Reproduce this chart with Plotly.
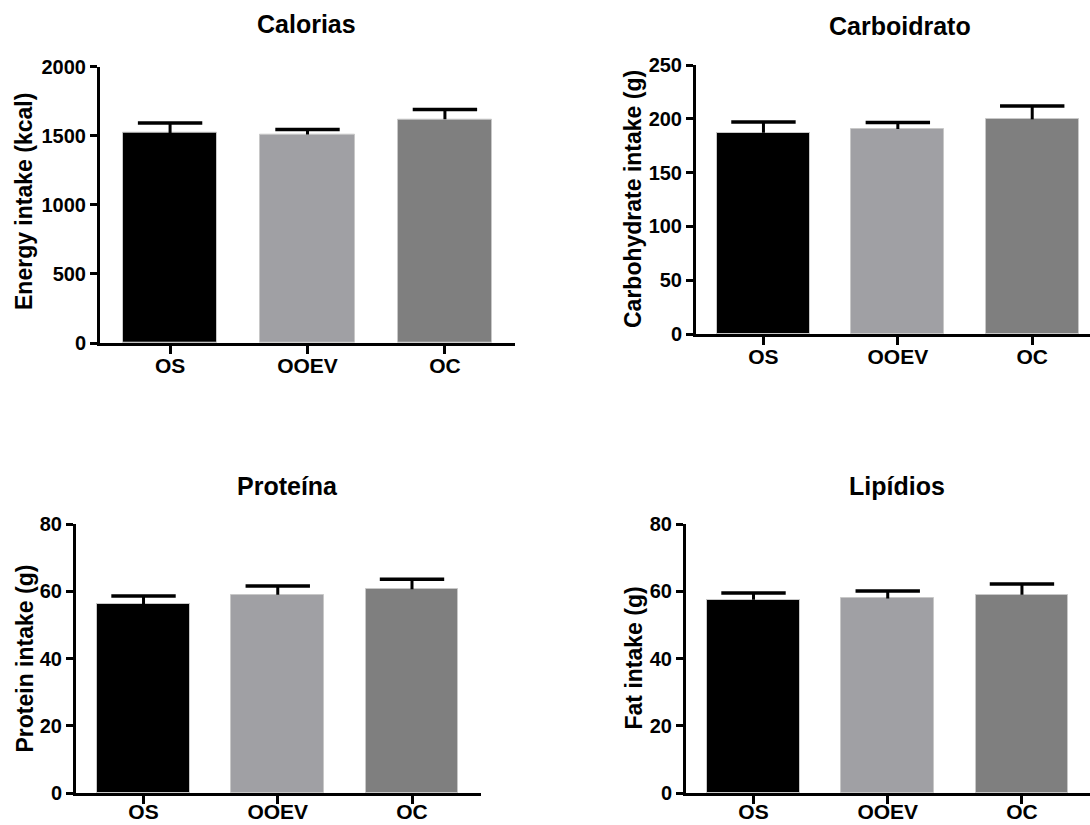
import plotly.graph_objects as go

groups = ["OS", "OOEV", "OC"]
colors = ["#000000", "#a0a0a4", "#7f7f7f"]

energy_mean = [1520, 1509, 1620]
energy_err = [73, 36, 70]
carb_mean = [187, 190.5, 199.5]
carb_err = [10, 6, 12.5]
protein_mean = [56.2, 59.0, 60.6]
protein_err = [2.4, 2.6, 3.0]
fat_mean = [57.5, 57.9, 59.0]
fat_err = [2.0, 2.2, 3.2]

panel_titles = ["Calorias", "Carboidrato", "Proteína", "Lipídios"]
y_titles = ["Energy intake (kcal)", "Carbohydrate intake (g)", "Protein intake (g)", "Fat intake (g)"]

FONT = "Liberation Sans, Arial, sans-serif"
W, H = 1090, 825

panels = [
    dict(mean=energy_mean, err=energy_err, xpx=(100, 515), ypx=(343, 66.7), xr=[-0.51, 2.51], yr=[0, 2000], dt=500,
         title_pos=(306, 24), ytitle_pos=(24, 202), so=-6),
    dict(mean=carb_mean, err=carb_err, xpx=(696, 1090), ypx=(334, 65), xr=[-0.502, 2.43], yr=[0, 250], dt=50,
         title_pos=(900, 26), ytitle_pos=(633, 199), so=-6),
    dict(mean=protein_mean, err=protein_err, xpx=(76, 481), ypx=(793.3, 524), xr=[-0.503, 2.514], yr=[0, 80], dt=20,
         title_pos=(287, 486), ytitle_pos=(24, 658.5), so=-11),
    dict(mean=fat_mean, err=fat_err, xpx=(686, 1090), ypx=(793.3, 524), xr=[-0.503, 2.507], yr=[0, 80], dt=20,
         title_pos=(897, 486), ytitle_pos=(633, 658.5), so=-11),
]

fig = go.Figure()
annotations = []
for i, p in enumerate(panels):
    n = i + 1
    xa = "x" if n == 1 else f"x{n}"
    ya = "y" if n == 1 else f"y{n}"
    fig.add_trace(go.Bar(
        x=[0, 1, 2], y=p["mean"], width=0.69,
        marker=dict(color=colors, line=dict(color="#c8c8c8", width=1)),
        error_y=dict(type="data", array=p["err"], arrayminus=[0, 0, 0], symmetric=False,
                     color="#000000", thickness=3, width=0),
        xaxis=xa, yaxis=ya, showlegend=False, hoverinfo="skip",
    ))
    tops = [m + e for m, e in zip(p["mean"], p["err"])]
    fig.add_trace(go.Scatter(
        x=[0, 1, 2], y=tops, mode="markers",
        marker=dict(symbol="line-ew", size=46, color="#000000", line=dict(color="#000000", width=3.5)),
        xaxis=xa, yaxis=ya, showlegend=False, cliponaxis=False, hoverinfo="skip",
    ))
    xdom = [p["xpx"][0] / W, min(1.0, p["xpx"][1] / W)]
    ydom = [(H - p["ypx"][0]) / H, (H - p["ypx"][1]) / H]
    axis_common = dict(showline=True, linecolor="#000000", linewidth=3, ticks="outside",
                       tickcolor="#000000", tickwidth=3, showgrid=False, zeroline=False,
                       automargin=False, fixedrange=True)
    fig.layout[f"xaxis{'' if n == 1 else n}"] = dict(
        domain=xdom, range=p["xr"], anchor=ya, tickmode="array", tickvals=[0, 1, 2],
        ticktext=groups, ticklen=8, ticklabelstandoff=p["so"],
        tickfont=dict(family=FONT, size=21, color="#000000", weight="bold"), **axis_common)
    fig.layout[f"yaxis{'' if n == 1 else n}"] = dict(
        domain=ydom, range=p["yr"], anchor=xa, dtick=p["dt"], tick0=0, ticklen=7,
        tickfont=dict(family=FONT, size=20, color="#000000", weight="bold"), **axis_common)
    annotations.append(dict(text=panel_titles[i], x=p["title_pos"][0] / W, y=1 - p["title_pos"][1] / H,
                            xref="paper", yref="paper", xanchor="center", yanchor="middle", showarrow=False,
                            font=dict(family=FONT, size=25, color="#000000", weight="bold")))
    annotations.append(dict(text=y_titles[i], x=p["ytitle_pos"][0] / W, y=1 - p["ytitle_pos"][1] / H,
                            xref="paper", yref="paper", xanchor="center", yanchor="middle", showarrow=False,
                            textangle=-90,
                            font=dict(family=FONT, size=23, color="#000000", weight="bold")))

fig.update_layout(width=W, height=H, margin=dict(l=0, r=0, t=0, b=0, autoexpand=False),
                  paper_bgcolor="#ffffff", plot_bgcolor="#ffffff", annotations=annotations,
                  bargap=0)
fig.write_html("out.html")
